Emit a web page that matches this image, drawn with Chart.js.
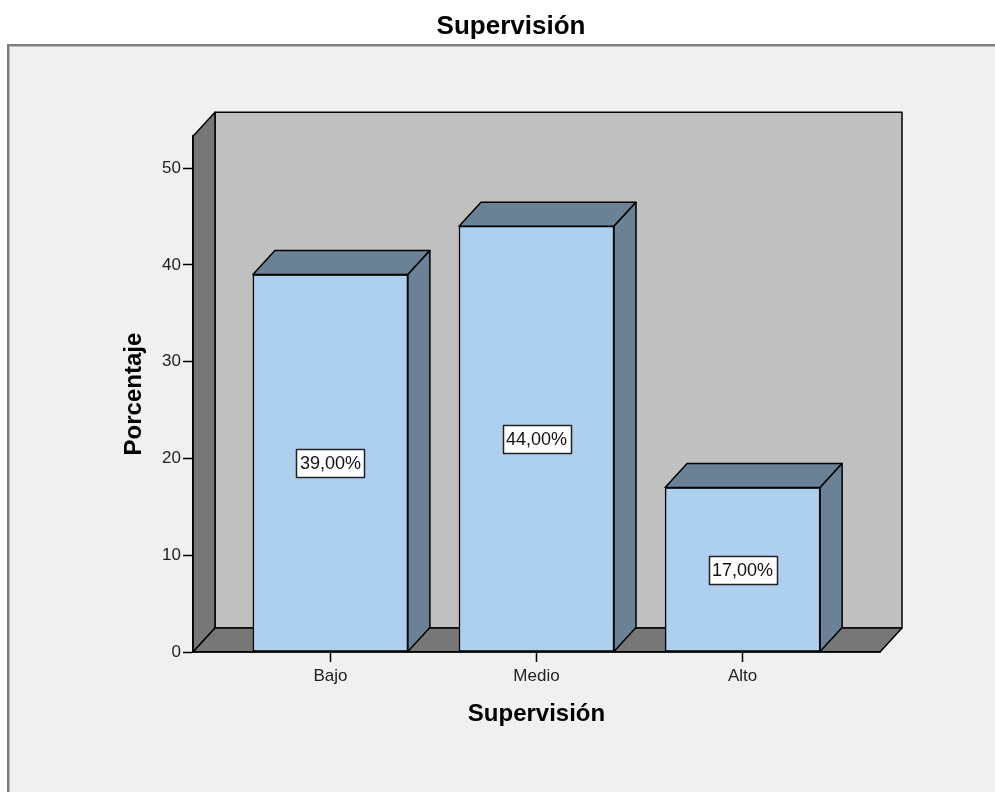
<!DOCTYPE html>
<html>
<head>
<meta charset="utf-8">
<script src="https://cdn.jsdelivr.net/npm/chart.js@4/dist/chart.umd.min.js"></script>
<style>
    html, body { margin: 0; padding: 0; background: #ffffff; }
    #wrap { width: 995px; height: 792px; position: relative; }
</style>
</head>
<body>
<div id="wrap"><canvas id="chart"></canvas></div>
<script>
// Data
const categories = ['Bajo', 'Medio', 'Alto'];
const percentages = [39, 44, 17];
const yTickValues = [0, 10, 20, 30, 40, 50];

const FONT = "'Liberation Sans', Arial, sans-serif";
const DEPTH_X = 22;
const DEPTH_Y = 24;

// Background frame and 3D walls/floor (drawn before the axes)
const wallsPlugin = {
    id: 'walls',
    beforeDraw(chart) {
        const ctx = chart.ctx;
        const a = chart.chartArea;
        ctx.save();
        ctx.fillStyle = '#ffffff';
        ctx.fillRect(0, 0, chart.width, chart.height);

        // outer panel
        ctx.fillStyle = '#f0f0f0';
        ctx.fillRect(8, 45, chart.width, chart.height);
        ctx.fillStyle = '#7c7c7c';
        ctx.fillRect(7, 44, chart.width, 2);
        ctx.fillRect(7, 44, 2, chart.height);
        ctx.fillStyle = '#b8b8b8';
        ctx.fillRect(9, 46, chart.width, 1);
        ctx.fillRect(9, 46, 1, chart.height);

        ctx.lineWidth = 1.5;
        ctx.strokeStyle = '#000000';
        ctx.lineJoin = 'round';

        const poly = (pts, fill) => {
            ctx.beginPath();
            ctx.moveTo(pts[0][0], pts[0][1]);
            for (let i = 1; i < pts.length; i++) ctx.lineTo(pts[i][0], pts[i][1]);
            ctx.closePath();
            ctx.fillStyle = fill;
            ctx.fill();
            ctx.stroke();
        };

        // back wall
        poly([
            [a.left + DEPTH_X, a.top - DEPTH_Y],
            [a.right + DEPTH_X, a.top - DEPTH_Y],
            [a.right + DEPTH_X, a.bottom - DEPTH_Y],
            [a.left + DEPTH_X, a.bottom - DEPTH_Y]
        ], '#c0c0c0');
        // left wall
        poly([
            [a.left, a.top],
            [a.left + DEPTH_X, a.top - DEPTH_Y],
            [a.left + DEPTH_X, a.bottom - DEPTH_Y],
            [a.left, a.bottom]
        ], '#777777');
        // floor
        poly([
            [a.left, a.bottom],
            [a.left + DEPTH_X, a.bottom - DEPTH_Y],
            [a.right + DEPTH_X, a.bottom - DEPTH_Y],
            [a.right, a.bottom]
        ], '#777777');
        ctx.restore();
    }
};

// Top and side faces of the bars plus the value boxes
const bars3dPlugin = {
    id: 'bars3d',
    afterDatasetsDraw(chart) {
        const ctx = chart.ctx;
        const meta = chart.getDatasetMeta(0);
        const yScale = chart.scales.y;
        ctx.save();
        ctx.lineJoin = 'round';

        meta.data.forEach((bar, i) => {
            const p = bar.getProps(['x', 'y', 'base', 'width'], true);
            const l = p.x - p.width / 2;
            const r = p.x + p.width / 2;

            ctx.lineWidth = 1.5;
            ctx.strokeStyle = '#000000';
            ctx.fillStyle = '#6a8196';
            // top face
            ctx.beginPath();
            ctx.moveTo(l, p.y);
            ctx.lineTo(l + DEPTH_X, p.y - DEPTH_Y);
            ctx.lineTo(r + DEPTH_X, p.y - DEPTH_Y);
            ctx.lineTo(r, p.y);
            ctx.closePath();
            ctx.fill();
            ctx.stroke();
            // side face
            ctx.beginPath();
            ctx.moveTo(r, p.y);
            ctx.lineTo(r + DEPTH_X, p.y - DEPTH_Y);
            ctx.lineTo(r + DEPTH_X, p.base - DEPTH_Y);
            ctx.lineTo(r, p.base);
            ctx.closePath();
            ctx.fill();
            ctx.stroke();

            // value label
            const value = percentages[i];
            const text = value.toFixed(2).replace('.', ',') + '%';
            const cy = yScale.getPixelForValue(value / 2);
            ctx.font = '18px ' + FONT;
            const tw = ctx.measureText(text).width;
            const bw = Math.round(tw + 7);
            const bh = 28;
            const bx = Math.round(p.x - bw / 2) + 0.5;
            const by = Math.round(cy - bh / 2) + 0.5;
            ctx.fillStyle = '#ffffff';
            ctx.fillRect(bx, by, bw, bh);
            ctx.strokeStyle = '#222222';
            ctx.strokeRect(bx, by, bw, bh);
            ctx.fillStyle = '#111111';
            ctx.textAlign = 'center';
            ctx.textBaseline = 'middle';
            ctx.fillText(text, p.x, cy + 1);
        });
        ctx.restore();
    }
};

const ctx = document.getElementById('chart');

new Chart(ctx, {
    type: 'bar',
    data: {
        datasets: [{
            label: 'Porcentaje',
            data: percentages.map((v, i) => ({ x: i, y: v })),
            backgroundColor: '#aecfee',
            borderColor: '#000000',
            borderWidth: 1.5,
            borderSkipped: false,
            barThickness: 155
        }]
    },
    options: {
        responsive: true,
        maintainAspectRatio: false,
        animation: false,
        layout: {
            padding: { left: 27, right: 0, top: 0, bottom: 0 }
        },
        scales: {
            x: {
                type: 'linear',
                min: -2 / 3,
                max: 8 / 3,
                offset: false,
                afterFit: function(scale) { scale.height = 140; },
                afterBuildTicks: function(scale) {
                    scale.ticks = categories.map((c, i) => ({ value: i }));
                },
                grid: {
                    offset: false,
                    drawOnChartArea: false,
                    drawTicks: true,
                    tickLength: 10,
                    tickColor: '#000000',
                    tickWidth: 1.5
                },
                border: { display: true, color: '#000000', width: 1.5 },
                ticks: {
                    autoSkip: false,
                    maxRotation: 0,
                    padding: 4,
                    color: '#222222',
                    font: { family: FONT, size: 17 },
                    callback: function(value) { return categories[value]; }
                },
                title: {
                    display: true,
                    text: 'Supervisión',
                    color: '#000000',
                    font: { family: FONT, size: 24, weight: 'bold' },
                    padding: { top: 0, bottom: 63 }
                }
            },
            y: {
                min: 0,
                max: 53.3,
                afterFit: function(scale) { scale.width = 166; },
                afterBuildTicks: function(scale) {
                    scale.ticks = yTickValues.map(v => ({ value: v }));
                },
                grid: {
                    drawOnChartArea: false,
                    drawTicks: true,
                    tickLength: 10,
                    tickColor: '#000000',
                    tickWidth: 1.5
                },
                border: { display: true, color: '#000000', width: 1.5 },
                ticks: {
                    padding: 2,
                    color: '#222222',
                    font: { family: FONT, size: 17 }
                },
                title: {
                    display: true,
                    text: 'Porcentaje',
                    color: '#000000',
                    font: { family: FONT, size: 24, weight: 'bold' },
                    padding: { top: 93, bottom: 0 }
                }
            },
            // empty spacer on the right so the plot ends where the reference does
            spacer: {
                type: 'linear',
                position: 'right',
                afterFit: function(scale) { scale.width = 115; },
                grid: { display: false, drawTicks: false },
                border: { display: false },
                ticks: { display: false },
                title: { display: false }
            }
        },
        plugins: {
            legend: { display: false },
            tooltip: { enabled: false },
            title: {
                display: true,
                text: 'Supervisión',
                color: '#000000',
                font: { family: FONT, size: 26, weight: 'bold' },
                padding: { top: 11, bottom: 94 }
            }
        }
    },
    plugins: [wallsPlugin, bars3dPlugin]
});
</script>
</body>
</html>
